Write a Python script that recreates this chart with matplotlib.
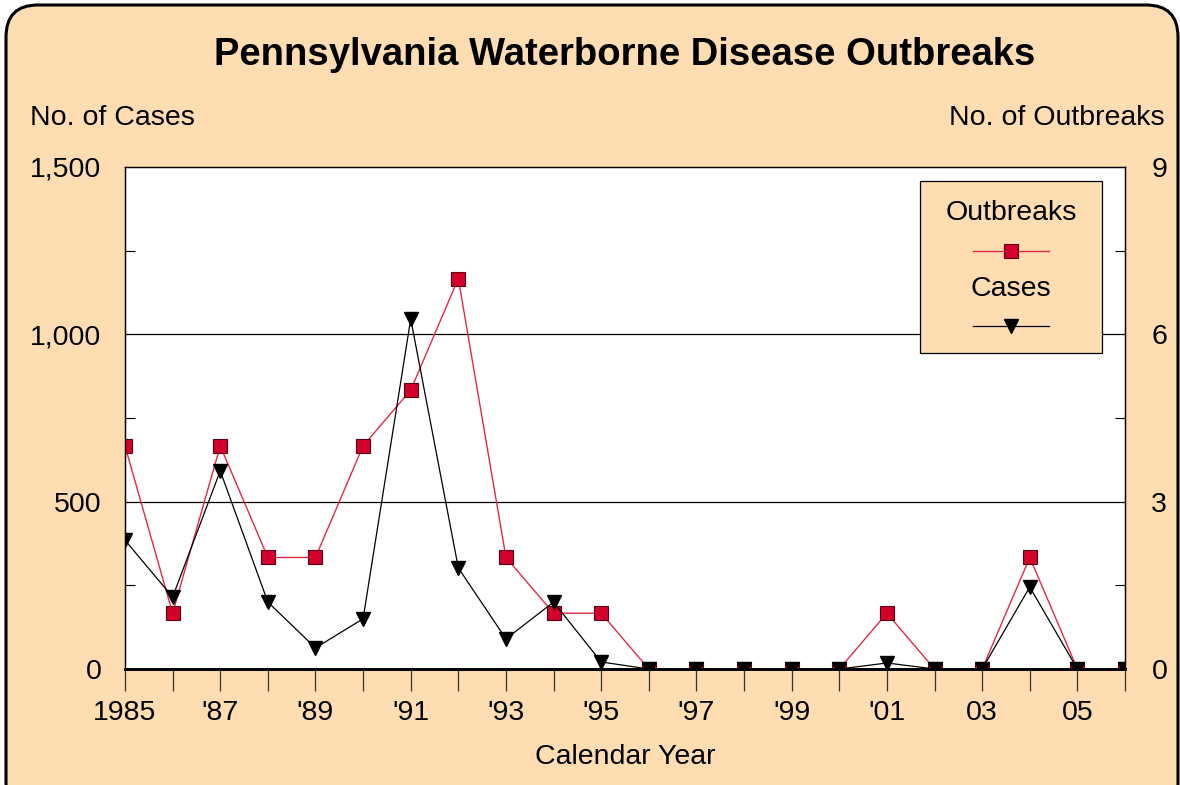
import matplotlib.pyplot as plt
from matplotlib.patches import FancyBboxPatch, Rectangle
from matplotlib.lines import Line2D
from matplotlib.ticker import FixedLocator

plt.rcParams['font.family'] = ['Liberation Sans', 'DejaVu Sans']

years = list(range(1985, 2007))
outbreaks = [4, 1, 4, 2, 2, 4, 5, 7, 2, 1, 1, 0, 0, 0, 0, 0, 1, 0, 0, 2, 0, 0]
cases = [385, 215, 592, 200, 63, 150, 1046, 302, 90, 200, 21, 0, 0, 0, 0, 0, 18, 0, 0, 245, 0, 0]
tick_years = [1985, 1987, 1989, 1991, 1993, 1995, 1997, 1999, 2001, 2003, 2005]
tick_labels = ['1985', "'87", "'89", "'91", "'93", "'95", "'97", "'99", "'01", '03', '05']

peach = '#FDDDB1'
red = '#D4002C'
redline = '#E2294A'
fs = 20.5

fig = plt.figure(figsize=(11.8, 7.85), dpi=100)
fig.patch.set_facecolor('white')

# rounded background frame
frame = FancyBboxPatch((0.06, -0.3), 11.72, 8.1,
                       boxstyle='round,pad=0,rounding_size=0.32',
                       transform=fig.dpi_scale_trans, facecolor=peach,
                       edgecolor='black', linewidth=2.2, zorder=-10)
fig.patches.append(frame)

ax = fig.add_axes([125 / 1180, 116 / 785, 1000 / 1180, 502 / 785])
ax.set_facecolor('white')
ax2 = ax.twinx()

# outbreaks on the right scale
ax.plot(years, outbreaks, color=redline, linewidth=1.0, marker='s',
        markersize=9.5, markerfacecolor=red, markeredgecolor='#5a0010',
        markeredgewidth=0.8, zorder=3)
ax.set_ylim(0, 9)
ax.set_xlim(1985, 2006)
ax.yaxis.tick_right()
ax.set_yticks([0, 3, 6, 9])
ax.yaxis.set_minor_locator(FixedLocator([1.5, 4.5, 7.5]))
ax.tick_params(axis='y', which='major', length=0, pad=19, labelsize=fs)
ax.tick_params(axis='y', which='minor', direction='in', length=7, width=0.8)
for v in [3, 6]:
    ax.axhline(v, color='black', linewidth=0.9, zorder=1)

# cases on the left scale
ax2.plot(years, cases, color='black', linewidth=0.9, marker='v',
         markersize=10, markerfacecolor='black', markeredgecolor='black', zorder=4)
ax2.set_ylim(0, 1500)
ax2.yaxis.tick_left()
ax2.set_yticks([0, 500, 1000, 1500])
ax2.set_yticklabels(['0', '500', '1,000', '1,500'])
ax2.yaxis.set_minor_locator(FixedLocator([250, 750, 1250]))
ax2.tick_params(axis='y', which='major', length=0, pad=17, labelsize=fs)
ax2.tick_params(axis='y', which='minor', direction='in', length=7, width=0.8)

# x axis: a tick every year, a label every other year
ax.set_xticks(tick_years)
ax.set_xticklabels(tick_labels)
ax.xaxis.set_minor_locator(FixedLocator(years))
ax.tick_params(axis='x', which='both', direction='out', length=16, width=0.9,
               color='#333333', labelsize=fs, pad=6)

for a in (ax, ax2):
    for s in ['top', 'left', 'right']:
        a.spines[s].set_linewidth(0.9)
    a.spines['bottom'].set_linewidth(2.0)

fig.text(625 / 1180, 1 - 55 / 785, 'Pennsylvania Waterborne Disease Outbreaks',
         ha='center', va='center', fontsize=27.5, fontweight='bold')
fig.text(30 / 1180, 1 - 118 / 785, 'No. of Cases', ha='left', va='center', fontsize=fs)
fig.text(1165 / 1180, 1 - 118 / 785, 'No. of Outbreaks', ha='right', va='center', fontsize=fs)
fig.text(625 / 1180, 1 - 757 / 785, 'Calendar Year', ha='center', va='center', fontsize=fs)

# legend box
lx0, ly0, lx1, ly1 = 920, 181, 1102, 353
fig.patches.append(Rectangle((lx0 / 1180, 1 - ly1 / 785), (lx1 - lx0) / 1180,
                             (ly1 - ly0) / 785, transform=fig.transFigure,
                             facecolor=peach, edgecolor='black', linewidth=0.9, zorder=5))
fig.text(1011 / 1180, 1 - 213 / 785, 'Outbreaks', ha='center', va='center', fontsize=fs, zorder=6)
fig.text(1011 / 1180, 1 - 289 / 785, 'Cases', ha='center', va='center', fontsize=fs, zorder=6)
fig.lines.append(Line2D([973 / 1180, 1011 / 1180, 1049 / 1180], [1 - 251 / 785] * 3,
                        transform=fig.transFigure, color=redline, linewidth=1.0,
                        marker='s', markersize=9.5, markevery=[1], markerfacecolor=red,
                        markeredgecolor='#5a0010', markeredgewidth=0.8, zorder=6))
fig.lines.append(Line2D([973 / 1180, 1011 / 1180, 1049 / 1180], [1 - 326 / 785] * 3,
                        transform=fig.transFigure, color='black', linewidth=0.9,
                        marker='v', markersize=10, markevery=[1], markerfacecolor='black',
                        zorder=6))

fig.savefig('out.png', dpi=100)
